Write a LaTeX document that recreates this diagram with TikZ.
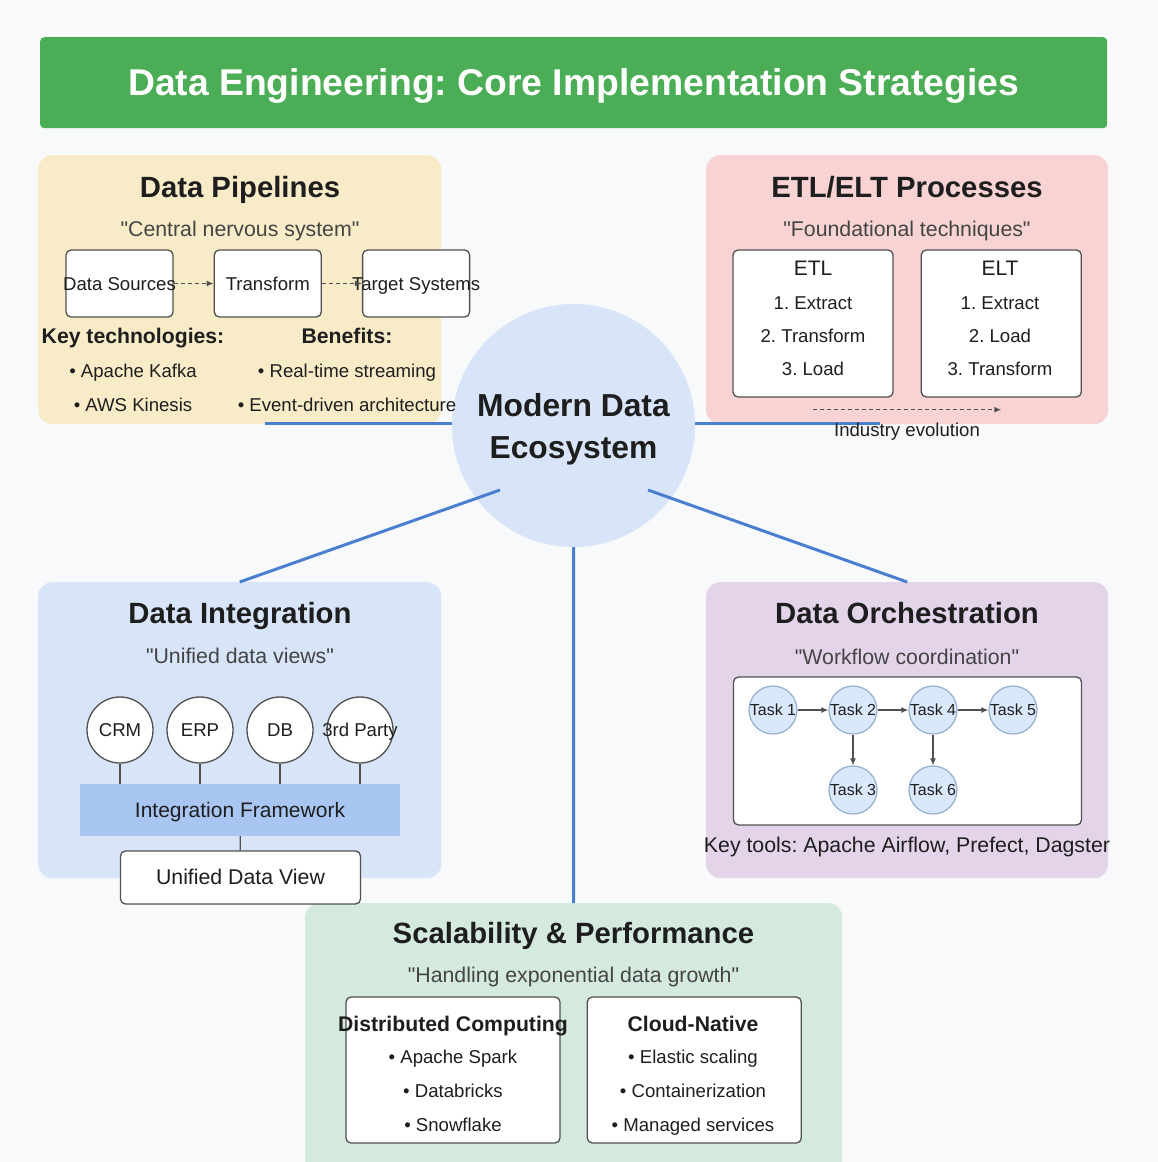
\documentclass[tikz,border=0pt]{standalone}
\usepackage{fontspec}
\setmainfont{Liberation Sans}[Ligatures=TeXOff]
\usetikzlibrary{positioning,arrows.meta}

\definecolor{bgcol}{HTML}{F8F9FA}
\definecolor{titlecol}{HTML}{4BAD55}
\definecolor{pipecol}{HTML}{F8ECC8}
\definecolor{etlcol}{HTML}{F8D3D3}
\definecolor{integcol}{HTML}{D8E5F8}
\definecolor{orchcol}{HTML}{E3D4EA}
\definecolor{scalcol}{HTML}{D4EADF}
\definecolor{fwcol}{HTML}{A9C5F2}
\definecolor{hubcol}{HTML}{D8E5F8}
\definecolor{linkcol}{HTML}{4A7FD0}
\definecolor{inkcol}{HTML}{1E1E1E}
\definecolor{quotecol}{HTML}{444444}
\definecolor{edgecol}{HTML}{505050}
\definecolor{taskfill}{HTML}{DAE8FC}
\definecolor{taskedge}{HTML}{95AECF}

\newcommand{\fix}[1]{\makebox[0pt]{#1}}
\newcommand{\setsz}[1]{\fontsize{#1}{#1}\selectfont}
\frenchspacing

\begin{document}
\begin{tikzpicture}[x=1pt,y=-1pt,>={Latex[length=7pt,width=6pt]},
    panel/.style={anchor=north west,inner sep=0pt,rounded corners=14pt},
    hd/.style={inner sep=0pt,text=inkcol,font=\setsz{29.3}\bfseries,text height=20.5pt,text depth=0pt},
    qt/.style={inner sep=0pt,text=quotecol,font=\setsz{21.3},text height=14.9pt,text depth=0pt},
    bd/.style={inner sep=0pt,text=inkcol,font=\setsz{18.6},text height=13pt,text depth=0pt},
    bb/.style={bd,font=\setsz{21.2}\bfseries,text height=14.8pt},
    wbox/.style={draw=edgecol,fill=white,line width=1.3pt,rounded corners=5pt,inner sep=0pt},
    srcnode/.style={circle,draw=edgecol,fill=white,line width=1.3pt,minimum size=66pt,bd},
    task/.style={circle,draw=taskedge,fill=taskfill,line width=1.2pt,minimum size=48pt,inner sep=0pt,
        text=inkcol,font=\setsz{16},text height=11.2pt,text depth=0pt},
    hub/.style={draw=linkcol,line width=3pt},
    flow/.style={->,dash pattern=on 4pt off 3pt,edgecol,line width=1.3pt},
    dep/.style={->,edgecol,line width=1.3pt}]

    \fill[bgcol] (0,0) rectangle (1158,1162);
    \useasboundingbox (0,0) rectangle (1158,1162);
    \clip (0,0) rectangle (1158,1162);

    %Titulo
    \node[panel,fill=titlecol,rounded corners=4pt,minimum width=1067pt,minimum height=91pt] (title) at (40,37) {};
    \node[text=white,font=\setsz{37.3}\bfseries,inner sep=0pt,text height=26.1pt,text depth=0pt] (titletxt) at (title.center) {Data Engineering: Core Implementation Strategies};

    %Paneles
    \node[panel,fill=pipecol,minimum width=403pt,minimum height=269pt] (pipe) at (38,155) {};
    \node[panel,fill=etlcol,minimum width=402pt,minimum height=269pt] (etlp) at (706,155) {};
    \node[panel,fill=integcol,minimum width=403pt,minimum height=296pt] (integ) at (38,582) {};
    \node[panel,fill=orchcol,minimum width=402pt,minimum height=296pt] (orch) at (706,582) {};
    \node[panel,fill=scalcol,minimum width=537pt,minimum height=290pt] (scal) at (305,903) {};

    %Centro
    \node[circle,fill=hubcol,minimum size=243pt,inner sep=0pt] (eco) at (573.5,425.5) {};
    \node[align=center,text=inkcol,inner sep=0pt,font=\fontsize{31.8}{42}\selectfont\bfseries] (ecotxt) at ([yshift=-4pt]eco.center) {Modern Data\\Ecosystem};
    \coordinate (pipeend) at (265,423);
    \coordinate (etlend) at (880,423);
    \coordinate (hubsw) at (500,490);
    \coordinate (hubse) at (648,490);
    \draw[hub] (pipeend) -- (pipeend -| eco.west);
    \draw[hub] (etlend -| eco.east) -- (etlend);
    \draw[hub] (hubsw) -- (integ.north);
    \draw[hub] (hubse) -- (orch.north);
    \draw[hub] (eco.south) -- (scal.north);

    %Pipelines
    \node[hd] (pipehd) at (240,187) {Data Pipelines};
    \node[qt] (pipeqt) at (240,229) {"Central nervous system"};
    \node[wbox,bd,minimum width=107pt,minimum height=67pt] (srcbox) at (119.5,283.5) {\fix{Data Sources}};
    \node[wbox,bd,minimum width=107pt,minimum height=67pt,right=40pt of srcbox] (trfbox) {\fix{Transform}};
    \node[wbox,bd,minimum width=107pt,minimum height=67pt,right=40pt of trfbox] (tgtbox) {\fix{Target Systems}};
    \draw[flow] (srcbox) -- (trfbox);
    \draw[flow] (trfbox) -- (tgtbox);
    \node[bb] (keyhd) at (133,336) {Key technologies:};
    \node[bb] (benhd) at (347,336) {Benefits:};
    \foreach \t [count=\i] in {Apache Kafka,AWS Kinesis}
        \node[bd] (key\i) at (133,337+34*\i) {• \t};
    \foreach \t [count=\i] in {Real-time streaming,Event-driven architecture}
        \node[bd] (ben\i) at (347,337+34*\i) {• \t};

    %ETL/ELT
    \node[hd] (etlhd) at (907,187) {ETL/ELT Processes};
    \node[qt] (etlqt) at (907,229) {"Foundational techniques"};
    \node[wbox,minimum width=160pt,minimum height=147pt] (etl) at (813,323.5) {};
    \node[wbox,minimum width=160pt,minimum height=147pt,right=27pt of etl] (elt) {};
    \node[bd,font=\setsz{21},text height=14.7pt] (etlcap) at (813,268) {ETL};
    \node[bd,font=\setsz{21},text height=14.7pt] (eltcap) at (1000,268) {ELT};
    \foreach \t [count=\i] in {1. Extract,2. Transform,3. Load}
        \node[bd] (etl\i) at (813,270+33*\i) {\t};
    \foreach \t [count=\i] in {1. Extract,2. Load,3. Transform}
        \node[bd] (elt\i) at (1000,270+33*\i) {\t};
    \coordinate[below=12pt of etl] (evoA);
    \coordinate[below=12pt of elt] (evoB);
    \draw[flow] (evoA) -- (evoB);
    \node[bd] (evo) at (907,430) {Industry evolution};

    %Integracion
    \node[hd] (inthd) at (240,613) {Data Integration};
    \node[qt] (intqt) at (240,656) {"Unified data views"};
    \node[bd,fill=fwcol,minimum width=320pt,minimum height=52pt,font=\setsz{21},text height=14.7pt] (fw) at (240,810) {Integration Framework};
    \foreach \n/\x/\t in {crm/120/CRM,erp/200/ERP,db/280/DB,trd/360/3rd Party}{
        \node[srcnode] (\n) at (\x,730) {\fix{\t}};
        \draw[edgecol,line width=1.2pt] (\n) -- (\n |- fw.north);
    }
    \node[wbox,bd,font=\setsz{21.3},text height=14.9pt,minimum width=240pt,minimum height=53pt] (udv) at (240.5,877.5) {Unified Data View};
    \draw[edgecol,line width=1.2pt] (fw) -- (udv);

    %Orquestacion
    \node[hd] (orchhd) at (907,613) {Data Orchestration};
    \node[qt] (orchqt) at (907,657) {"Workflow coordination"};
    \node[wbox,minimum width=348pt,minimum height=148pt] (dag) at (907.5,751) {};
    \foreach \n/\x/\y in {1/773/710,2/853/710,4/933/710,5/1013/710,3/853/790,6/933/790}
        \node[task] (t\n) at (\x,\y) {\fix{Task \n}};
    \foreach \a/\b in {1/2,2/4,4/5,2/3,4/6}
        \draw[dep] (t\a) -- (t\b);
    \node[bd,font=\setsz{21.3},text height=14.9pt] (tools) at (907,845) {Key tools: Apache Airflow, Prefect, Dagster};

    %Escalabilidad
    \node[hd] (scalhd) at (573.5,933) {Scalability \& Performance};
    \node[qt] (scalqt) at (573.5,975) {"Handling exponential data growth"};
    \node[wbox,minimum width=214pt,minimum height=146pt] (dist) at (453,1070) {};
    \node[wbox,minimum width=214pt,minimum height=146pt,right=26pt of dist] (cloud) {};
    \node[bb] (disthd) at (453,1024) {\fix{Distributed Computing}};
    \node[bb] (cloudhd) at (693,1024) {Cloud-Native};
    \foreach \t [count=\i] in {Apache Spark,Databricks,Snowflake}
        \node[bd] (dist\i) at (453,1023+34*\i) {• \t};
    \foreach \t [count=\i] in {Elastic scaling,Containerization,Managed services}
        \node[bd] (cloud\i) at (693,1023+34*\i) {• \t};

\end{tikzpicture}
\end{document}
